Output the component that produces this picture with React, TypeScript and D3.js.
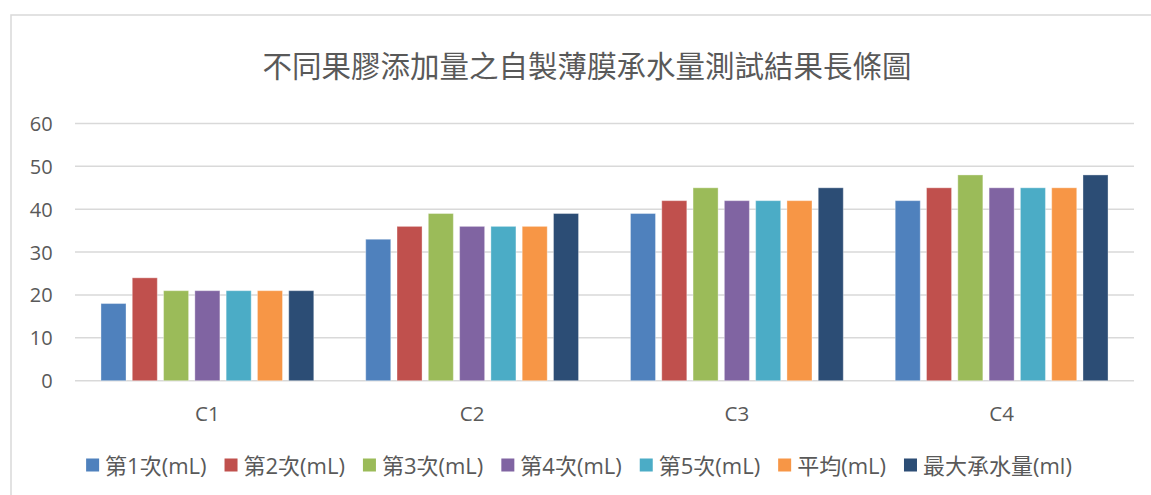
import React, { useMemo } from "react";
import * as d3 from "d3";

const categories = ["C1", "C2", "C3", "C4"];
const seriesNames = ["第1次(mL)", "第2次(mL)", "第3次(mL)", "第4次(mL)", "第5次(mL)", "平均(mL)", "最大承水量(ml)"];
const trial1 = [18, 33, 39, 42];
const trial2 = [24, 36, 42, 45];
const trial3 = [21, 39, 45, 48];
const trial4 = [21, 36, 42, 45];
const trial5 = [21, 36, 42, 45];
const average = [21, 36, 42, 45];
const maxLoad = [21, 39, 45, 48];
const seriesValues = [trial1, trial2, trial3, trial4, trial5, average, maxLoad];
const colors = ["#4F81BD", "#C0504D", "#9BBB59", "#8064A2", "#4BACC6", "#F79646", "#2C4D75"];
const yTicks = [0, 10, 20, 30, 40, 50, 60];
const title = "不同果膠添加量之自製薄膜承水量測試結果長條圖";

const W = 1151;
const H = 495;
const FONT = "'Open Sans', 'Noto Sans CJK TC', sans-serif";
const TEXT = "#595959";

export default function App() {
  const plot = { left: 75, right: 1134, top: 123.5, bottom: 380.7 };
  const y = d3.scaleLinear().domain([0, 60]).range([plot.bottom, plot.top]);
  const x0 = d3.scaleBand<string>().domain(categories).range([plot.left, plot.right]);
  const x1 = d3
    .scaleBand<string>()
    .domain(seriesNames)
    .range([0, x0.bandwidth()])
    .paddingInner(0.2)
    .paddingOuter(0.83);

  const legendFont = 22;
  const widths = useMemo(() => {
    const c = document.createElement("canvas").getContext("2d");
    if (!c) return seriesNames.map((s) => s.length * legendFont * 0.7);
    c.font = `${legendFont}px ${FONT}`;
    return seriesNames.map((s) => c.measureText(s).width);
  }, []);
  const sw = 13;
  const gapSwText = 6;
  const gapItems = 18;
  const total = widths.reduce((a, w) => a + sw + gapSwText + w, 0) + gapItems * (seriesNames.length - 1);
  let lx = 579 - total / 2;
  const legendItems = seriesNames.map((name, i) => {
    const item = { name, x: lx, color: colors[i] };
    lx += sw + gapSwText + widths[i] + gapItems;
    return item;
  });
  const legendY = 465;

  return (
    <svg
      width={W}
      height={H}
      style={{ position: "absolute", left: 0, top: 0, background: "#fff" }}
      fontFamily={FONT}
    >
      <rect x={0} y={0} width={W} height={H} fill="#fff" />
      <rect x={11} y={15} width={1200} height={600} fill="#fff" stroke="#d9d9d9" strokeWidth={1.5} />
      <text x={587} y={65} textAnchor="middle" dominantBaseline="central" fontSize={29.5} fill={TEXT}>
        {title}
      </text>
      {yTicks.map((t) => (
        <g key={t}>
          <line x1={plot.left} x2={plot.right} y1={y(t)} y2={y(t)} stroke="#d9d9d9" strokeWidth={1.5} />
          <text x={52.7} y={y(t)} textAnchor="end" dominantBaseline="central" fontSize={20} fill={TEXT}>
            {t}
          </text>
        </g>
      ))}
      {categories.map((c, ci) => (
        <g key={c} transform={`translate(${x0(c)},0)`}>
          {seriesNames.map((s, si) => {
            const v = seriesValues[si][ci];
            return (
              <rect
                key={s}
                x={x1(s)}
                y={y(v)}
                width={x1.bandwidth()}
                height={y(0) - y(v)}
                fill={colors[si]}
                stroke="#ffffff"
                strokeOpacity={0.35}
                strokeWidth={1}
              />
            );
          })}
          <text
            x={x0.bandwidth() / 2}
            y={413}
            textAnchor="middle"
            dominantBaseline="central"
            fontSize={20.5}
            fill={TEXT}
          >
            {c}
          </text>
        </g>
      ))}
      {legendItems.map((it) => (
        <g key={it.name}>
          <rect x={it.x} y={legendY - sw / 2} width={sw} height={sw} fill={it.color} />
          <text
            x={it.x + sw + gapSwText}
            y={legendY}
            dominantBaseline="central"
            fontSize={legendFont}
            fill={TEXT}
          >
            {it.name}
          </text>
        </g>
      ))}
    </svg>
  );
}
